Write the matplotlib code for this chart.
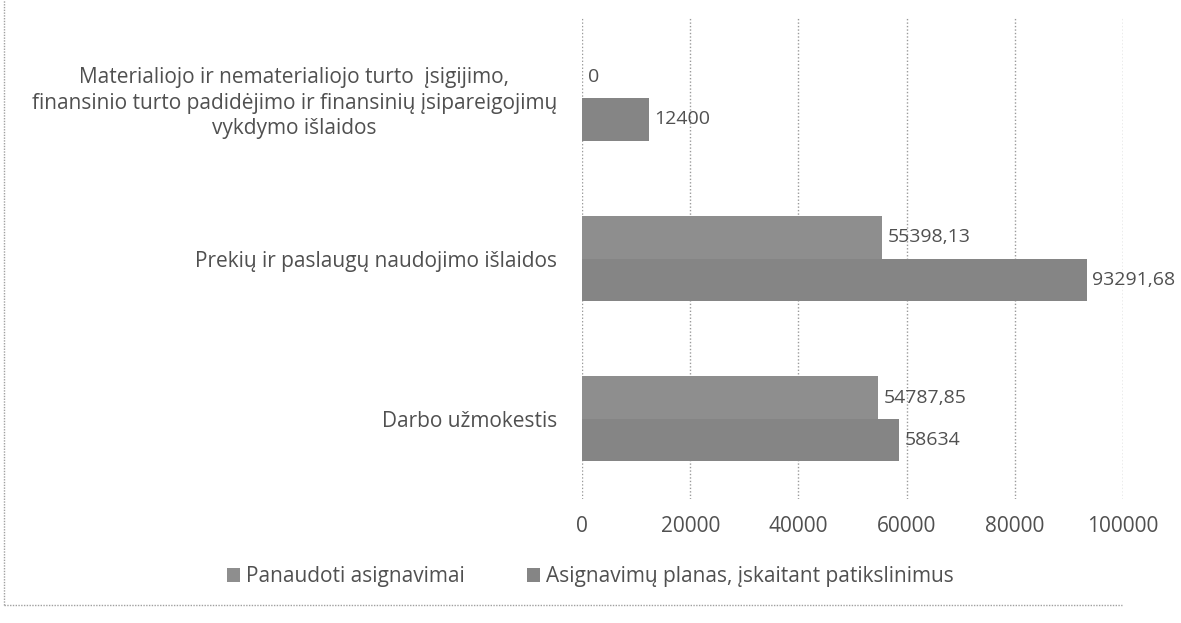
import matplotlib
matplotlib.use('Agg')
import matplotlib.pyplot as plt
import numpy as np
from matplotlib.lines import Line2D

# duomenys
categories = ['Darbo užmokestis',
              'Prekių ir paslaugų naudojimo išlaidos',
              'Materialiojo ir nematerialiojo turto  įsigijimo,\n'
              'finansinio turto padidėjimo ir finansinių įsipareigojimų\n'
              'vykdymo išlaidos']
panaudoti = [54787.85, 55398.13, 0]
planas = [58634, 93291.68, 12400]
panaudoti_labels = ['54787,85', '55398,13', '0']
planas_labels = ['58634', '93291,68', '12400']
series_names = ['Panaudoti asignavimai', 'Asignavimų planas, įskaitant patikslinimus']
xticks = [0, 20000, 40000, 60000, 80000, 100000]

plt.rcParams['font.family'] = ['Open Sans', 'DejaVu Sans']
txt = '#505050'
fs = 15
fs_lab = 14

fig = plt.figure(figsize=(11.81, 6.23), dpi=100)
ax = fig.add_axes([0.4928, 0.199, 0.4581, 0.772])

y = np.arange(len(categories))
h = 0.265
b1 = ax.barh(y + h/2, panaudoti, height=h, color='#8e8e8e', label=series_names[0], zorder=3)
b2 = ax.barh(y - h/2, planas, height=h, color='#858585', label=series_names[1], zorder=3)

for bar, lab in zip(b1, panaudoti_labels):
    ax.annotate(lab, (bar.get_width(), bar.get_y() + bar.get_height()/2),
                xytext=(4, 0), textcoords='offset points', va='center',
                fontsize=fs_lab, color=txt)
for bar, lab in zip(b2, planas_labels):
    ax.annotate(lab, (bar.get_width(), bar.get_y() + bar.get_height()/2),
                xytext=(4, 0), textcoords='offset points', va='center',
                fontsize=fs_lab, color=txt)

ax.set_xlim(0, 100000)
ax.set_ylim(-0.5, len(categories) - 0.5)
ax.set_xticks(xticks)
ax.set_xticklabels([str(t) for t in xticks], fontsize=fs, color=txt)
ax.set_yticks(y)
ax.set_yticklabels(categories, fontsize=fs, color=txt, multialignment='center', linespacing=1.3)
ax.tick_params(length=0, pad=12)
ax.tick_params(axis='y', pad=18)
ax.grid(axis='x', color='#9a9a9a', linestyle=(0, (1, 1.5)), linewidth=1, zorder=0)
for s in ax.spines.values():
    s.set_visible(False)

fig.legend(handles=[b1, b2], labels=series_names, loc='center', bbox_to_anchor=(0.5, 0.074),
           ncol=2, frameon=False, fontsize=fs, labelcolor=txt, handlelength=0.6,
           handleheight=0.6, handletextpad=0.3, columnspacing=3.0)

# rėmelis
fig.add_artist(Line2D([0.003, 0.003], [0.029, 1.0], transform=fig.transFigure,
                      color='#a0a0a0', linestyle=(0, (1, 1)), linewidth=1))
fig.add_artist(Line2D([0.003, 0.95], [0.029, 0.029], transform=fig.transFigure,
                      color='#a0a0a0', linestyle=(0, (1, 1)), linewidth=1))

fig.savefig('out.png', dpi=100)
